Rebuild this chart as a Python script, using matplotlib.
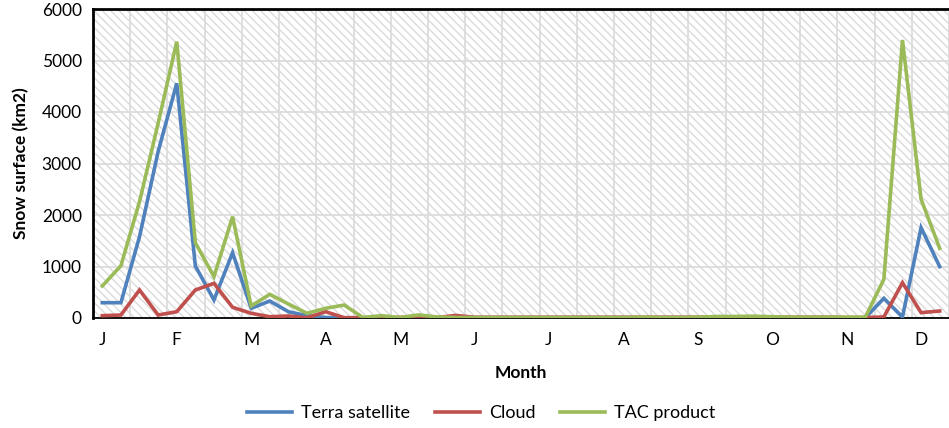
import matplotlib.pyplot as plt
from matplotlib.lines import Line2D

plt.rcParams['font.family'] = ['Lato', 'DejaVu Sans']
plt.rcParams['hatch.linewidth'] = 1.0

months = ['J', 'F', 'M', 'A', 'M', 'J', 'J', 'A', 'S', 'O', 'N', 'D']

# weekly snow surface (km2), four samples per month
terra = [297, 297, 1579, 3230, 4557, 1010, 350, 1268,
         188, 330, 122, 45, 10, 5, 5, 5,
         5, 10, 5, 5, 5, 5, 5, 5,
         5, 5, 5, 5, 5, 5, 5, 5,
         5, 5, 5, 10, 5, 5, 5, 5,
         5, 5, 382, 20, 1754, 997]
cloud = [45, 58, 544, 58, 122, 544, 673, 208,
         91, 25, 39, 5, 122, 6, 5, 10,
         10, 35, 10, 50, 15, 15, 15, 15,
         15, 15, 15, 15, 15, 15, 15, 15,
         15, 20, 15, 25, 15, 15, 15, 15,
         10, 10, 20, 686, 104, 136]
tac = [621, 1016, 2259, 3780, 5366, 1463, 802, 1968,
       233, 460, 272, 91, 188, 252, 10, 45,
       10, 60, 20, 10, 10, 10, 10, 10,
       10, 10, 10, 10, 10, 15, 10, 10,
       15, 30, 30, 35, 25, 15, 15, 15,
       15, 15, 751, 5398, 2305, 1353]

colors = {'Terra satellite': '#4F81BD', 'Cloud': '#C0504D', 'TAC product': '#9BBB59'}
fs = 12.5

fig = plt.figure(figsize=(9.49, 4.28), dpi=100)
ax = fig.add_axes([93 / 949, 1 - 318 / 428, 1 - 93 / 949, 309 / 428])

# hatched plot area
ax.patch.set_facecolor('white')
ax.patch.set_edgecolor('#dadada')
ax.patch.set_linewidth(0)
ax.patch.set_hatch('\\\\\\\\')

x = list(range(len(tac)))
for name, ys in [('Terra satellite', terra), ('Cloud', cloud), ('TAC product', tac)]:
    ax.plot(x, ys, color=colors[name], lw=2.6, label=name, solid_joinstyle='miter', zorder=3)

ax.set_xlim(-0.5, 45.3)
ax.set_ylim(0, 6000)
ax.set_yticks(range(0, 6001, 1000))
ax.set_xticks(range(0, 48, 4))
ax.set_xticklabels(months)
ax.set_xticks([i + 0.5 for i in range(1, 46, 2)], minor=True)

ax.grid(axis='y', which='major', color='#dcdcdc', lw=1.3, zorder=1)
ax.grid(axis='x', which='minor', color='#dcdcdc', lw=1.3, zorder=1)
ax.set_axisbelow(True)

ax.tick_params(axis='both', which='both', length=0, labelsize=fs, colors='black')
ax.tick_params(axis='y', pad=8)
ax.tick_params(axis='x', pad=10)

for side in ['left', 'top']:
    ax.spines[side].set_linewidth(2)
ax.spines['bottom'].set_linewidth(1.3)
ax.spines['right'].set_visible(False)

ax.set_ylabel('Snow surface (km2)', fontsize=fs, fontweight='bold', labelpad=9)
ax.set_xlabel('Month', fontsize=fs, fontweight='bold', labelpad=12)

handles = [Line2D([], [], color=c, lw=2.6) for c in colors.values()]
fig.legend(handles, list(colors.keys()), loc='center', bbox_to_anchor=(0.507, 1 - 413 / 428),
           ncol=3, frameon=False, fontsize=13, handlelength=2.5, columnspacing=1.35,
           handletextpad=0.5)

fig.savefig('out.png', dpi=100)
